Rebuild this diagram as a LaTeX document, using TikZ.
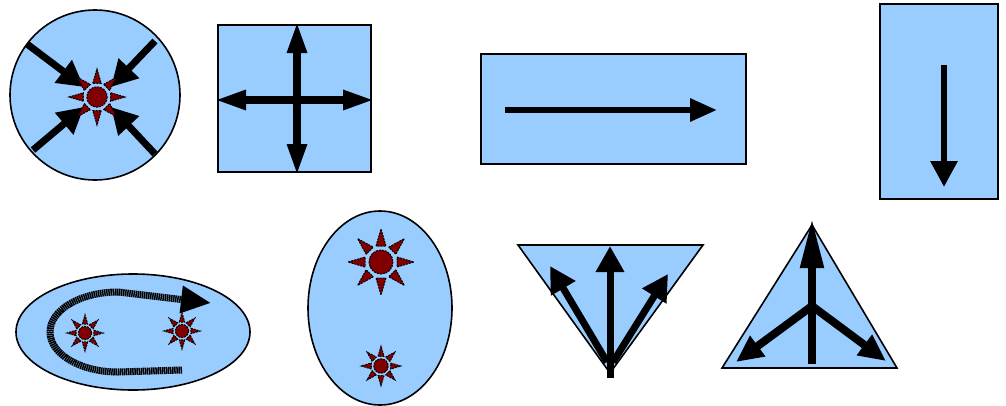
\documentclass[tikz,border=0pt]{standalone}
\usepackage{tikz}
\usetikzlibrary{arrows.meta}
\definecolor{sky}{HTML}{99CCFF}
\definecolor{rust}{HTML}{800000}

% a small sun: dashed core with eight dashed rays
\newcommand{\sunmark}[2]{%
  \begin{scope}[shift={(#1)}, scale=#2]
    \foreach \a in {0,45,...,315}
      \draw[ray, rotate=\a] (16,-5) -- (33,0) -- (16,5) -- cycle;
    \draw[ray] (0,0) circle (12);
  \end{scope}}

\begin{document}
\begin{tikzpicture}[
  x=1pt, y=-1pt,
  blob/.style={draw=black, line width=1.6pt, fill=sky},
  ray/.style={draw=black, fill=rust, line width=1pt, dash pattern=on 2pt off 1pt},
  fat/.style={line width=7pt, -{Triangle[length=26pt,width=27pt]}}
]
\useasboundingbox (0,0) rectangle (1006,405);

% circle, arrows pointing in
\draw[blob] (95,95) circle (85);
\coordinate (nwA) at (27,44);  \coordinate (nwB) at (84,87);
\coordinate (neA) at (155,41); \coordinate (neB) at (111,87);
\coordinate (swA) at (33,150); \coordinate (swB) at (84,107);
\coordinate (seA) at (155,154); \coordinate (seB) at (111,107);
\draw[fat] (nwA) -- (nwB);
\draw[fat] (neA) -- (neB);
\draw[fat] (swA) -- (swB);
\draw[fat] (seA) -- (seB);
\coordinate (hub) at (97,97);
\sunmark{hub}{0.85}

% square, cross
\draw[blob] (218,25) rectangle (371,172);
\coordinate (crossW) at (214,100); \coordinate (crossE) at (375,100);
\coordinate (crossN) at (297,21);  \coordinate (crossS) at (297,176);
\draw[line width=8pt, {Triangle[length=32pt,width=18pt]}-{Triangle[length=32pt,width=18pt]}] (crossW) -- (crossE);
\draw[line width=8pt, {Triangle[length=32pt,width=18pt]}-{Triangle[length=32pt,width=18pt]}] (crossN) -- (crossS);

% wide box
\draw[blob] (481,54) rectangle (746,164);
\coordinate (wideA) at (505,110); \coordinate (wideB) at (717,110);
\draw[line width=6pt, -{Triangle[length=27pt,width=22pt]}] (wideA) -- (wideB);

% tall box
\draw[blob] (880,4) rectangle (998,199);
\coordinate (tallA) at (944,65); \coordinate (tallB) at (944,187);
\draw[line width=6pt, -{Triangle[length=26pt,width=26pt]}] (tallA) -- (tallB);

% flat ellipse, loop
\draw[blob] (133,332) ellipse [x radius=117, y radius=58];
\coordinate (loopA) at (182,370); \coordinate (loopB) at (118,372);
\coordinate (loopC) at (211,303);
\draw[line width=7pt, dash pattern=on 1.5pt off 0.6pt, -{Triangle[length=30pt,width=26pt]}]
  (loopA) -- (loopB) arc[start angle=90, end angle=270, x radius=68, y radius=40] -- (loopC);
\coordinate (sunL) at (85,333);  \sunmark{sunL}{0.55}
\coordinate (sunR) at (182,331); \sunmark{sunR}{0.55}

% upright ellipse
\draw[blob] (380,308) ellipse [x radius=72, y radius=97];
\coordinate (sunBig) at (381,262);   \sunmark{sunBig}{1}
\coordinate (sunSmall) at (381,366); \sunmark{sunSmall}{0.6}

% triangle, point down
\draw[blob] (518,245) -- (703,245) -- (610,373) -- cycle;
\coordinate (fanO) at (610,378); \coordinate (fanOl) at (607,362); \coordinate (fanOr) at (613,362);
\coordinate (fanN) at (610,246); \coordinate (fanW) at (550,266); \coordinate (fanE) at (668,274);
\draw[fat] (fanO) -- (fanN);
\draw[fat] (fanOl) -- (fanW);
\draw[fat] (fanOr) -- (fanE);

% triangle, point up
\draw[blob] (722,368) -- (897,368) -- (812,225) -- cycle;
\coordinate (forkS) at (812,364); \coordinate (forkN) at (812,218);
\coordinate (forkJ) at (812,306);
\coordinate (forkW) at (736,362); \coordinate (forkE) at (886,361);
\draw[line width=8pt, -{Triangle[length=50pt,width=22pt]}] (forkS) -- (forkN);
\draw[line width=8pt, -{Triangle[length=27pt,width=24pt]}] (forkJ) -- (forkW);
\draw[line width=8pt, -{Triangle[length=27pt,width=24pt]}] (forkJ) -- (forkE);
\end{tikzpicture}
\end{document}
